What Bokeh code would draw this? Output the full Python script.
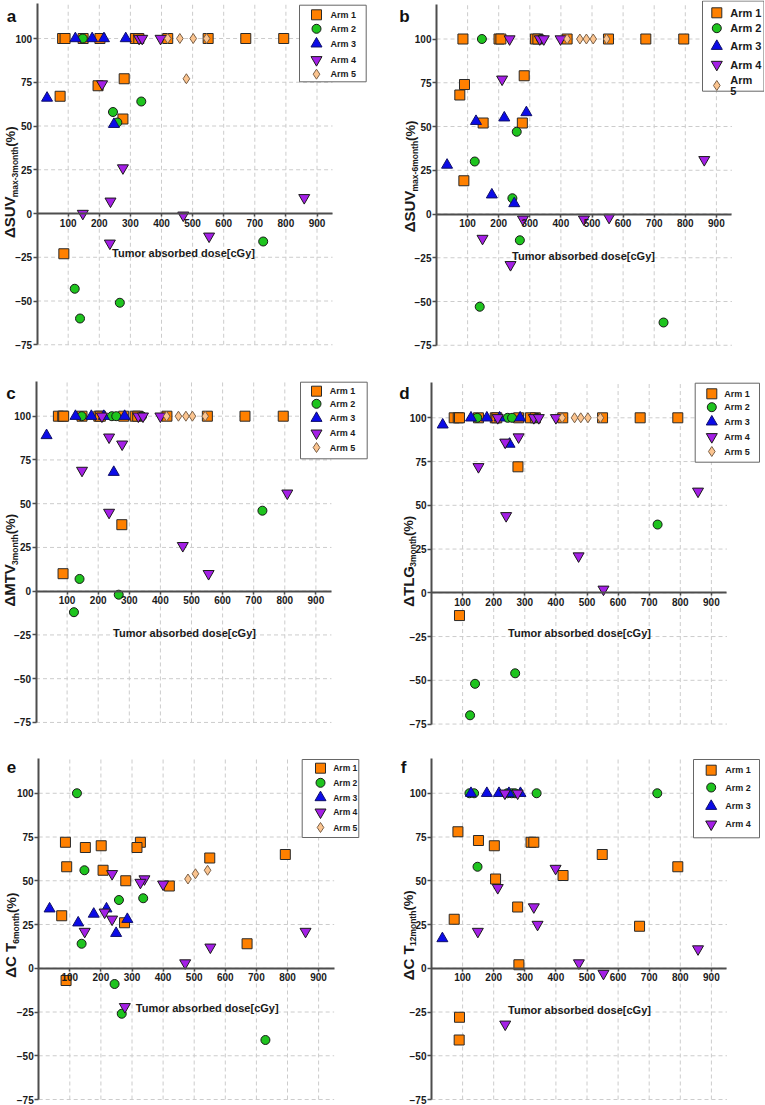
import math
from bokeh.plotting import figure
from bokeh.layouts import column, row
from bokeh.models import Range1d, FixedTicker, Label
from bokeh.embed import file_html
from bokeh.resources import INLINE

ARM_NAMES = ["Arm 1", "Arm 2", "Arm 3", "Arm 4", "Arm 5"]
X_TICKS = [100, 200, 300, 400, 500, 600, 700, 800, 900]
Y_TICKS = [-75, -50, -25, 0, 25, 50, 75, 100]
X_LABEL = "Tumor absorbed dose[cGy]"

# ---- panel a : dSUVmax-3month
A1_X = [74, 86, 82, 90, 148, 196, 202, 276, 280, 316, 327, 420, 550, 671, 793]
A1_Y = [67, -23, 100, 100, 100, 73, 100, 54, 77, 100, 100, 100, 100, 100, 100]
A2_X = [121, 138, 147, 244, 258, 266, 335, 727]
A2_Y = [-43, -60, 100, 58, 52, -51, 64, -16]
A3_X = [32, 123, 177, 215, 247, 285]
A3_Y = [66, 100, 100, 100, 51, 100]
A4_X = [147, 209, 234, 236, 276, 328, 338, 397, 470, 553, 859]
A4_Y = [0, 74, -17, 7, 26, 100, 100, 100, -1, -13, 9]
A5_X = [420, 459, 480, 502, 545]
A5_Y = [100, 100, 77, 100, 100]

# ---- panel b : dSUVmax-6month
B1_X = [75, 85, 88, 90, 150, 201, 207, 276, 282, 318, 326, 420, 553, 673, 795]
B1_Y = [68, 100, 19, 74, 52, 100, 100, 52, 79, 100, 100, 100, 100, 100, 100]
B2_X = [123, 139, 146, 244, 258, 268, 336, 730]
B2_Y = [30, -53, 100, 9, 47, -15, 100, -62]
B3_X = [34, 127, 178, 218, 250, 289]
B3_Y = [28, 53, 11, 55, 6, 58]
B4_X = [148, 211, 235, 238, 278, 332, 345, 399, 474, 555, 861]
B4_Y = [-14, 77, 100, -29, -3, 100, 100, 100, -3, -2, 31]
B5_X = [420, 461, 482, 504, 547]
B5_Y = [100, 100, 100, 100, 100]

# ---- panel c : dMTV3month
C1_X = [72, 86, 87, 89, 148, 202, 207, 276, 282, 319, 327, 421, 551, 672, 795]
C1_Y = [100, 100, 10, 100, 100, 100, 100, 38, 100, 100, 100, 100, 100, 100, 100]
C2_X = [122, 140, 147, 244, 258, 266, 341, 728]
C2_Y = [-12, 7, 100, 100, 100, -2, 100, 46]
C3_X = [34, 127, 178, 218, 250, 285]
C3_Y = [89, 100, 100, 100, 68, 100]
C4_X = [148, 212, 235, 235, 277, 329, 344, 400, 472, 555, 808]
C4_Y = [69, 100, 88, 45, 84, 100, 100, 100, 26, 10, 56]
C5_X = [420, 458, 482, 503, 544]
C5_Y = [100, 100, 100, 100, 100]

# ---- panel d : dTLG3month
D1_X = [73, 86, 90, 90, 151, 205, 210, 278, 280, 318, 334, 422, 550, 671, 792]
D1_Y = [100, 100, 100, -13, 100, 100, 100, 72, 100, 100, 100, 100, 100, 100, 100]
D2_X = [124, 140, 147, 245, 259, 269, 339, 727]
D2_Y = [-70, -52, 100, 100, 100, -46, 100, 39]
D3_X = [36, 127, 178, 219, 251, 285]
D3_Y = [96, 100, 100, 100, 85, 100]
D4_X = [151, 213, 237, 240, 280, 329, 345, 400, 473, 553, 857]
D4_Y = [72, 100, 86, 44, 89, 100, 100, 100, 21, 2, 58]
D5_X = [420, 460, 480, 503, 543]
D5_Y = [100, 100, 100, 100, 100]

# ---- panel e : dCT6month
E1_X = [86, 327, 150, 316, 201, 550, 793, 90, 207, 280, 420, 74, 276, 670, 88]
E1_Y = [72, 72, 69, 69, 70, 63, 65, 58, 56, 50, 47, 30, 26, 14, -7]
E2_X = [123, 147, 258, 336, 138, 244, 267, 729]
E2_Y = [100, 56, 39, 40, 14, -9, -26, -41]
E3_X = [35, 218, 177, 285, 127, 249]
E3_Y = [34, 34, 31, 28, 26, 20]
E4_X = [236, 340, 327, 400, 212, 236, 148, 858, 552, 471, 277]
E4_Y = [54, 51, 49, 48, 32, 28, 21, 21, 12, 3, -22]
E5_X = [480, 504, 543]
E5_Y = [51, 54, 56]

# ---- panel f : dCT12month
F1_X = [85, 151, 320, 329, 202, 549, 792, 423, 206, 277, 73, 669, 281, 90, 89]
F1_Y = [78, 73, 72, 72, 70, 65, 58, 53, 51, 35, 28, 24, 2, -28, -41]
F2_X = [122, 137, 244, 258, 268, 338, 726, 148]
F2_Y = [100, 100, 100, 100, 100, 100, 100, 58]
F3_X = [35, 127, 178, 217, 249, 286]
F3_Y = [17, 100, 100, 100, 100, 100]
F4_X = [399, 213, 329, 341, 149, 857, 474, 553, 237, 236, 277]
F4_Y = [57, 46, 35, 25, 21, 11, 3, -3, -32, 100, 100]

# ---------------- styling ----------------
FONT = "Liberation Sans"
TXT = "#1a1a1a"
AXC = "#4d4d4d"
X0, X1, Y0, Y1 = 0, 950, -75, 120
KX, KY = 0.311, 1.75          # px per data unit

STYLES = [
    dict(marker="square", size=10, fill_color="#FF8000", line_color="#2a2a2a"),
    dict(marker="circle", size=9, fill_color="#1EC41E", line_color="#1a1a1a"),
    dict(marker="triangle", size=11, fill_color="#0B0BE8", line_color="#10106a"),
    dict(marker="inverted_triangle", size=11, fill_color="#A41FE6", line_color="#1a1a1a"),
    dict(marker="diamond", size=10, fill_color="#FBC48F", line_color="#7a6048"),
]

WID = {"Δ": 0.668, "S": 0.667, "U": 0.722, "V": 0.667, "M": 0.833, "T": 0.611,
       "L": 0.611, "G": 0.778, "C": 0.722, " ": 0.278, "m": 0.889, "a": 0.556,
       "x": 0.556, "-": 0.333, "o": 0.611, "n": 0.611, "t": 0.333, "h": 0.611,
       "(": 0.333, "%": 0.889, ")": 0.333}


def tw(s, size):
    return sum(WID.get(c, 0.556) for c in s) * size


def make_panel(letter, ylab, series, names, W, H, OL, OT, leg, xlab, ylab_c, letter_pos):
    def dx(px):
        return X0 + (px - OL) / KX

    def dy(py):
        return Y1 - (py - OT) / KY

    p = figure(frame_width=W, frame_height=H,
               x_range=Range1d(dx(0), dx(W)), y_range=Range1d(dy(H), dy(0)),
               output_backend="svg", toolbar_location=None, tools="", title=None,
               min_border=0)
    p.outline_line_color = None
    p.background_fill_color = "white"
    p.border_fill_color = "white"
    p.grid.visible = False

    # axes crossing at the origin
    p.xaxis.fixed_location = 0
    p.yaxis.fixed_location = 0
    p.xaxis.bounds = (X0, X1)
    p.yaxis.bounds = (Y0, Y1)
    p.xaxis.ticker = FixedTicker(ticks=X_TICKS)
    p.yaxis.ticker = FixedTicker(ticks=Y_TICKS)
    for ax in (p.xaxis, p.yaxis):
        ax.axis_line_color = AXC
        ax.axis_line_width = 2
        ax.major_tick_line_color = AXC
        ax.major_tick_line_width = 1.5
        ax.major_tick_in = 0
        ax.minor_tick_line_color = None
        ax.major_label_text_font = FONT
        ax.major_label_text_font_style = "bold"
        ax.major_label_text_font_size = "10px"
        ax.major_label_text_color = TXT
    p.xaxis.major_tick_out = 3
    p.yaxis.major_tick_out = 4
    p.xaxis.major_label_standoff = 2
    p.yaxis.major_label_standoff = 1

    # dashed grid at the tick positions, limited to the axis box
    nx, ny = len(X_TICKS), len(Y_TICKS)
    p.segment(x0=X_TICKS, x1=X_TICKS, y0=[Y0] * nx, y1=[Y1] * nx,
              line_color="#cccccc", line_dash="4 3", line_width=1)
    p.segment(x0=[X0] * ny, x1=[X1] * ny, y0=Y_TICKS, y1=Y_TICKS,
              line_color="#cccccc", line_dash="4 3", line_width=1)

    for (xs, ys), st in zip(series, STYLES):
        p.scatter(x=xs, y=ys, line_width=1, **st)

    # legend box, swatches and texts
    l, t, r, b = leg["box"]
    p.quad(left=[dx(l)], right=[dx(r)], top=[dy(t)], bottom=[dy(b)],
           fill_color="white", line_color="#666666", line_width=1)
    for i, nm in enumerate(names):
        yy = leg["ys"][i]
        p.scatter(x=[dx(leg["sx"])], y=[dy(yy)], line_width=1, **STYLES[i])
        lines = nm.split("\n")
        for k, ln in enumerate(lines):
            ly = yy + (k - (len(lines) - 1) / 2) * leg.get("lsp", 11)
            p.add_layout(Label(x=dx(leg["tx"]), y=dy(ly), text=ln, text_font=FONT,
                               text_font_style="bold", text_font_size=leg["font"],
                               text_color=TXT, text_align="left", text_baseline="middle"))

    # x axis title
    p.add_layout(Label(x=dx(xlab[0]), y=dy(xlab[1]), text=X_LABEL,
                       text_font=FONT, text_font_style="bold", text_font_size="11px",
                       text_color=TXT, text_align="center", text_baseline="middle"))

    # composite rotated y title: main + subscript + tail
    main, sub, tail = ylab
    cx, cy = ylab_c
    sm, ss, st_ = 15, 8.5, 13
    L = tw(main, sm) + tw(sub, ss) + tw(tail, st_)
    pos = cy + L / 2
    for txt, size, off in [(main, sm, 0), (sub, ss, 5), (tail, st_, 0.5)]:
        p.add_layout(Label(x=dx(cx + off), y=dy(pos), text=txt, angle=math.pi / 2,
                           text_font=FONT, text_font_style="bold",
                           text_font_size=f"{size}px", text_color=TXT,
                           text_align="left", text_baseline="middle"))
        pos -= tw(txt, size)

    # panel letter
    p.add_layout(Label(x=dx(letter_pos[0]), y=dy(letter_pos[1]), text=letter,
                       text_font=FONT, text_font_style="bold", text_font_size="17px",
                       text_color="#111111", text_align="center",
                       text_baseline="alphabetic"))
    return p


WL, WR = 398, 366
H1, H2, H3 = 378, 378, 349

pa = make_panel("a", ("ΔSUV", "max-3month", " (%)"),
                [(A1_X, A1_Y), (A2_X, A2_Y), (A3_X, A3_Y), (A4_X, A4_Y), (A5_X, A5_Y)],
                ARM_NAMES, WL, H1, 36.6, 3.0,
                dict(box=(299, 4.7, 365.7, 81.3), sx=316, tx=330,
                     ys=[14.3, 28.3, 43.3, 59.3, 73.7], font="9px"),
                (183, 252.5), (9, 180), (11, 15.7))
pb = make_panel("b", ("ΔSUV", "max-6month", "(%)"),
                [(B1_X, B1_Y), (B2_X, B2_Y), (B3_X, B3_Y), (B4_X, B4_Y), (B5_X, B5_Y)],
                ["Arm 1", "Arm 2", "Arm 3", "Arm 4", "Arm\n5"], WR, H1, 38.0, 3.5,
                dict(box=(304, 0.5, 365.5, 90.7), sx=318.3, tx=331.7,
                     ys=[12.3, 27.7, 45.7, 64, 85], font="11px", lsp=11),
                (185, 255), (11, 176), (6, 15.5))
pc = make_panel("c", ("ΔMTV", "3month", " (%)"),
                [(C1_X, C1_Y), (C2_X, C2_Y), (C3_X, C3_Y), (C4_X, C4_Y), (C5_X, C5_Y)],
                ARM_NAMES, WL, H2, 35.5, 2.7,
                dict(box=(300, 3.7, 366.7, 80.3), sx=316, tx=329.3,
                     ys=[12.7, 25.3, 39.7, 54.7, 69], font="9px"),
                (184, 254.3), (9, 180), (10.5, 15.3))
pd_ = make_panel("d", ("ΔTLG", "3month", " (%)"),
                 [(D1_X, D1_Y), (D2_X, D2_Y), (D3_X, D3_Y), (D4_X, D4_Y), (D5_X, D5_Y)],
                 ARM_NAMES, WR, H2, 33.0, 4.3,
                 dict(box=(296.7, 4.7, 361, 83.7), sx=313.3, tx=325.7,
                      ys=[15.3, 28.7, 43.3, 58.3, 73], font="9px"),
                 (181, 254), (9.5, 181), (6, 15.3))
pe = make_panel("e", ("ΔC T", "6month", " (%)"),
                [(E1_X, E1_Y), (E2_X, E2_Y), (E3_X, E3_Y), (E4_X, E4_Y), (E5_X, E5_Y)],
                ARM_NAMES, WL, H3, 38.2, 1.75,
                dict(box=(301.7, 3, 358.3, 81), sx=320, tx=332.7,
                     ys=[11.7, 26.3, 41, 55.7, 71], font="8.5px"),
                (206.7, 251), (10, 177), (11, 10.5))
pf = make_panel("f", ("ΔC T", "12month", " (%)"),
                [(F1_X, F1_Y), (F2_X, F2_Y), (F3_X, F3_Y), (F4_X, F4_Y)],
                ARM_NAMES[:4], WR, H3, 33.0, 1.75,
                dict(box=(295, 3, 361, 81.3), sx=312.7, tx=326.7,
                     ys=[13.7, 31, 49.7, 67.7], font="9px"),
                (181, 253.7), (9.5, 177), (5, 10.5))

layout = column(row(pa, pb, spacing=0), row(pc, pd_, spacing=0), row(pe, pf, spacing=0), spacing=0)

with open("out.html", "w") as fh:
    fh.write(file_html(layout, INLINE))
